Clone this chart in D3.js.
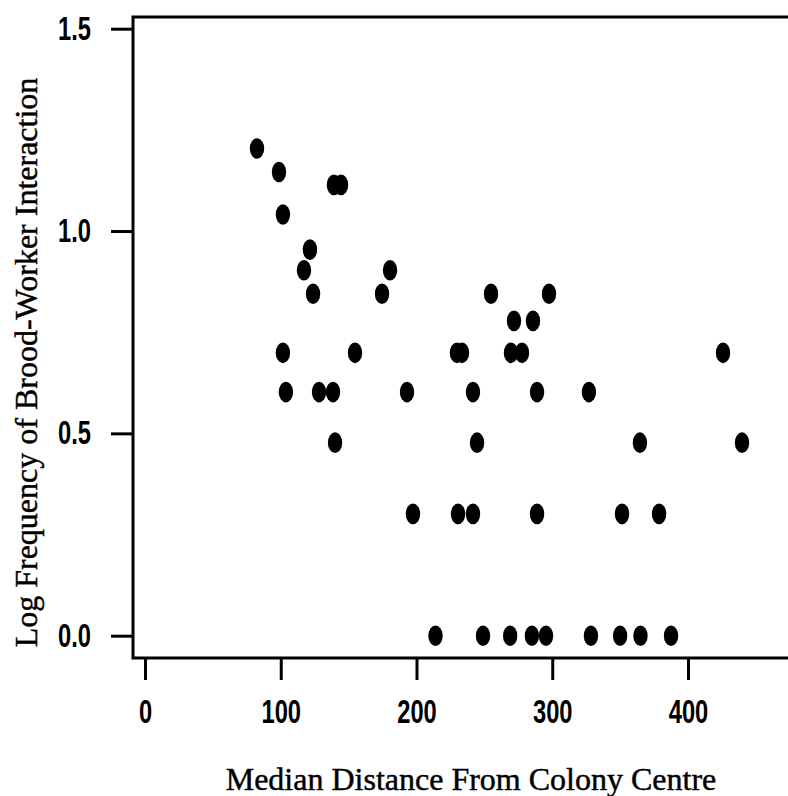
<!DOCTYPE html>
<html>
<head>
<meta charset="utf-8">
<script src="https://cdn.jsdelivr.net/npm/d3@7"></script>
<style>
  html, body { margin: 0; padding: 0; background: #fff; }
  svg { display: block; }
  .tick text { font-family: "Liberation Sans", Arial, sans-serif; font-weight: bold; font-size: 32.5px; fill: #000; }
  .title { font-family: "Liberation Serif", "Times New Roman", serif; font-size: 32px; fill: #000; stroke: #000; stroke-width: 0.45px; }
</style>
</head>
<body>
<svg id="chart" width="788" height="796"></svg>
<script>
// Median distance of each worker from the colony centre
const distance = [
  82.5, 98.7, 101.6, 117.1, 121.5, 123.8, 101.6, 103.8, 128.2, 138.5,
  140.0, 139.2, 144.4, 154.7, 174.6, 180.5, 193.0, 197.4, 214.0, 229.8,
  233.5, 230.6, 241.6, 241.6, 244.6, 249.0, 254.9, 269.0, 269.6, 271.8,
  277.7, 285.0, 285.8, 288.8, 288.8, 295.4, 297.6, 327.0, 328.5, 350.0,
  351.4, 364.6, 365.0, 378.7, 387.5, 425.8, 439.8
];
// log10 of the number of brood-worker interactions
const logFreq = [
  1.204, 1.146, 1.041, 0.903, 0.954, 0.845, 0.699, 0.602, 0.602, 0.602,
  0.477, 1.114, 1.114, 0.699, 0.845, 0.903, 0.602, 0.301, 0, 0.699,
  0.699, 0.301, 0.602, 0.301, 0.477, 0, 0.845, 0, 0.699, 0.778,
  0.699, 0, 0.778, 0.602, 0.301, 0, 0.845, 0.602, 0, 0,
  0.301, 0.477, 0, 0.301, 0, 0.699, 0.477
];
const xTicks = [0, 100, 200, 300, 400];
const yTicks = [0, 0.5, 1.0, 1.5];

const svg = d3.select("#chart");

const x = d3.scaleLinear().domain([0, 400]).range([145, 688]);
const y = d3.scaleLinear().domain([0, 1.5]).range([635.7, 28.7]);

// Plot frame (left, top and bottom edges; the right edge runs off the page)
const frame = { left: 133, top: 17, bottom: 658, right: 800 };
svg.append("path")
  .attr("d", `M${frame.right},${frame.top}H${frame.left}V${frame.bottom}H${frame.right}`)
  .attr("fill", "none")
  .attr("stroke", "#000")
  .attr("stroke-width", 3);

// Axes
const yAxis = svg.append("g")
  .attr("transform", `translate(${frame.left},0)`)
  .call(d3.axisLeft(y).tickValues(yTicks).tickFormat(d3.format(".1f")).tickSize(22).tickPadding(20));
const xAxis = svg.append("g")
  .attr("transform", `translate(0,${frame.bottom})`)
  .call(d3.axisBottom(x).tickValues(xTicks).tickFormat(d3.format("d")).tickSize(22).tickPadding(20));

const narrow = 0.73; // condensed tick-label face
[yAxis, xAxis].forEach(g => {
  g.select(".domain").remove();
  g.selectAll(".tick line").attr("stroke", "#000").attr("stroke-width", 3);
  g.attr("font-family", null).attr("font-size", null);
  g.selectAll(".tick text").each(function () {
    const t = d3.select(this);
    const tx = +t.attr("x") || 0;
    const ty = +t.attr("y") || 0;
    t.attr("x", 0).attr("y", 0)
      .attr("transform", `translate(${tx},${ty}) scale(${narrow},1)`);
  });
});

// Points
svg.append("g")
  .selectAll("ellipse")
  .data(distance.map((d, i) => [d, logFreq[i]]))
  .join("ellipse")
  .attr("cx", d => x(d[0]))
  .attr("cy", d => y(d[1]))
  .attr("rx", 7.2)
  .attr("ry", 10.3)
  .attr("fill", "#000");

// Axis titles
svg.append("text")
  .attr("class", "title")
  .attr("x", 471)
  .attr("y", 790)
  .attr("text-anchor", "middle")
  .text("Median Distance From Colony Centre");

svg.append("text")
  .attr("class", "title")
  .attr("transform", "translate(37,362.5) rotate(-90)")
  .attr("text-anchor", "middle")
  .text("Log Frequency of Brood-Worker Interaction");
</script>
</body>
</html>
